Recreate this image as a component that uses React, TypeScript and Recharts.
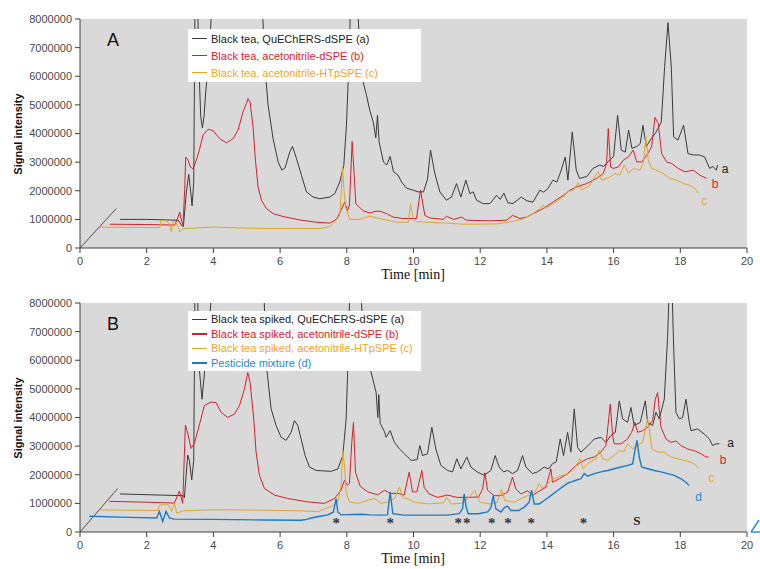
import { ComposedChart, Line, XAxis, YAxis, CartesianGrid, ReferenceLine, ReferenceDot } from 'recharts'

// [retention time (min), signal (millions of counts)]
type Pt = [number, number]

// --- A: black tea extracts ---
const A_QUECHERS: Pt[] = [
  [1.2, 1.0], [2.0, 1.0], [2.95, 0.97], [3.05, 0.78], [3.1, 0.75], [3.19, 1.96], [3.26, 2.57], [3.32, 1.96],
  [3.36, 1.47], [3.41, 2.3], [3.45, 9], [3.52, 9], [3.56, 6.5], [3.62, 4.6], [3.67, 4.2], [3.72, 4.6],
  [3.77, 5.45], [3.89, 7.0], [3.97, 9], [5.45, 9], [5.54, 6.39], [5.64, 4.99], [5.79, 3.82], [5.94, 3.01],
  [6.05, 2.72], [6.15, 2.8], [6.29, 3.36], [6.37, 3.55], [6.49, 3.13], [6.64, 2.54], [6.79, 1.96], [6.99, 1.78],
  [7.19, 1.72], [7.49, 1.78], [7.64, 1.9], [7.79, 2.31], [7.91, 2.89], [7.99, 4.29], [8.04, 5.8], [8.09, 7.55],
  [8.12, 9], [8.3, 9], [8.39, 6.97], [8.49, 5.8], [8.59, 5.34], [8.69, 4.81], [8.79, 4.41], [8.87, 3.85],
  [8.92, 4.64], [8.97, 3.7], [9.1, 3.0], [9.2, 2.9], [9.3, 3.2], [9.4, 2.66], [9.54, 2.54], [9.64, 2.31],
  [9.79, 2.09], [9.99, 2.02], [10.14, 1.96], [10.3, 1.96], [10.42, 2.4], [10.51, 3.42], [10.64, 2.6], [10.79, 1.96],
  [10.99, 1.67], [11.14, 1.78], [11.29, 2.25], [11.42, 1.78], [11.57, 2.37], [11.69, 1.9], [11.79, 1.96], [11.89, 1.67],
  [12.09, 1.55], [12.29, 1.55], [12.49, 1.84], [12.6, 1.7], [12.71, 1.92], [12.83, 1.58], [12.98, 1.55], [13.23, 1.78],
  [13.4, 1.65], [13.58, 1.6], [13.79, 2.02], [13.9, 1.95], [14.03, 2.08], [14.18, 2.37], [14.3, 2.3], [14.43, 2.72],
  [14.55, 3.18], [14.63, 2.37], [14.76, 4.06], [14.88, 2.72], [14.98, 2.43], [15.2, 2.5], [15.38, 2.78], [15.58, 2.9],
  [15.7, 2.85], [15.88, 3.07], [16.0, 3.2], [16.12, 4.64], [16.23, 3.42], [16.35, 3.35], [16.45, 4.12], [16.55, 3.48],
  [16.7, 3.55], [16.8, 3.65], [16.88, 4.29], [16.98, 3.54], [17.13, 3.83], [17.25, 4.0], [17.33, 4.18], [17.43, 4.4],
  [17.53, 6.33], [17.63, 7.87], [17.73, 6.33], [17.8, 3.88], [17.93, 3.77], [18.1, 4.29], [18.23, 3.3], [18.4, 3.25],
  [18.58, 3.25], [18.73, 3.18], [18.88, 2.78], [18.98, 2.85], [19.08, 2.72], [19.12, 2.9],
]
const A_ACN_DSPE: Pt[] = [
  [0.89, 0.83], [2.0, 0.82], [2.84, 0.8], [2.94, 1.08], [2.99, 1.26], [3.04, 0.97], [3.09, 0.8], [3.14, 2.08],
  [3.17, 3.18], [3.24, 3.07], [3.31, 2.83], [3.39, 2.77], [3.49, 3.07], [3.59, 3.47], [3.69, 3.94], [3.84, 4.15],
  [3.99, 4.1], [4.19, 3.82], [4.39, 3.67], [4.59, 3.82], [4.74, 4.12], [4.89, 4.76], [4.99, 5.05], [5.04, 5.22],
  [5.1, 5.1], [5.19, 4.23], [5.26, 3.07], [5.34, 2.13], [5.44, 1.67], [5.59, 1.38], [5.79, 1.2], [6.09, 1.1],
  [6.59, 0.98], [7.09, 0.9], [7.49, 0.87], [7.69, 1.0], [7.84, 1.35], [7.94, 1.61], [8.02, 1.3], [8.08, 1.5],
  [8.16, 3.72], [8.22, 2.6], [8.27, 1.55], [8.49, 1.3], [8.7, 1.22], [8.85, 1.28], [8.99, 1.29], [9.19, 1.2],
  [9.39, 1.08], [9.69, 1.03], [10.09, 1.03], [10.21, 2.02], [10.34, 1.14], [10.49, 1.05], [10.89, 1.0], [10.99, 1.11],
  [11.2, 1.0], [11.44, 1.08], [11.59, 0.97], [12.3, 0.95], [12.79, 0.97], [12.97, 1.14], [13.19, 1.03], [13.39, 1.08],
  [13.59, 1.2], [13.89, 1.38], [14.19, 1.61], [14.49, 1.84], [14.69, 2.02], [14.89, 2.13], [15.19, 2.25], [15.49, 2.43],
  [15.69, 2.6], [15.79, 2.95], [15.84, 4.17], [15.91, 2.83], [15.99, 2.78], [16.14, 2.83], [16.29, 3.07], [16.44, 3.18],
  [16.59, 3.42], [16.69, 3.01], [16.84, 3.0], [16.99, 3.24], [17.14, 3.53], [17.24, 4.56], [17.34, 4.35], [17.44, 3.3],
  [17.59, 3.01], [17.74, 2.95], [17.94, 2.78], [18.14, 2.66], [18.39, 2.72], [18.59, 2.54], [18.79, 2.43],
]
const A_ACN_HTPSPE: Pt[] = [
  [0.59, 0.73], [2.39, 0.71], [2.44, 0.97], [2.59, 0.95], [2.67, 0.86], [2.74, 0.56], [2.79, 0.92], [2.86, 0.92],
  [2.95, 0.71], [2.99, 0.56], [3.09, 0.68], [3.99, 0.73], [5.09, 0.69], [6.5, 0.68], [7.2, 0.68], [7.49, 0.75],
  [7.64, 0.91], [7.79, 1.14], [7.84, 2.1], [7.87, 2.83], [7.91, 2.1], [7.96, 1.45], [8.09, 1.0], [8.39, 1.0],
  [8.69, 1.11], [9.09, 1.0], [9.49, 0.9], [9.84, 0.9], [9.91, 1.55], [9.99, 1.05], [10.09, 0.92], [10.99, 0.87],
  [11.49, 0.83], [12.49, 0.84], [12.99, 0.93], [13.29, 1.02], [13.59, 1.2], [13.79, 1.38], [13.89, 1.5], [13.95, 1.38],
  [14.19, 1.55], [14.49, 1.78], [14.61, 1.96], [14.79, 2.02], [14.94, 2.28], [15.04, 2.02], [15.29, 2.19], [15.49, 2.6],
  [15.54, 2.66], [15.64, 2.37], [15.89, 2.48], [16.04, 2.6], [16.19, 2.55], [16.32, 2.9], [16.45, 2.6], [16.59, 2.78],
  [16.79, 2.72], [16.89, 2.95], [16.97, 3.88], [17.04, 3.07], [17.14, 2.78], [17.29, 2.72], [17.49, 2.6], [17.69, 2.43],
  [17.89, 2.37], [18.09, 2.25], [18.29, 2.19], [18.44, 2.08], [18.54, 1.92],
]

// --- B: spiked black tea extracts and the pesticide mixture ---
const B_QUECHERS: Pt[] = [
  [1.2, 1.33], [2.4, 1.29], [3.1, 1.27], [3.13, 1.2], [3.23, 2.69], [3.28, 2.5], [3.35, 1.82], [3.41, 2.5],
  [3.45, 9], [3.52, 9], [3.56, 5.92], [3.66, 4.64], [3.76, 5.92], [3.88, 7.19], [3.97, 9], [5.5, 9],
  [5.58, 5.92], [5.73, 4.3], [5.88, 3.72], [6.03, 3.31], [6.18, 3.2], [6.33, 3.48], [6.43, 3.89], [6.53, 3.72],
  [6.63, 3.25], [6.75, 2.67], [6.88, 2.27], [7.08, 2.15], [7.53, 2.12], [7.73, 2.2], [7.88, 2.67], [7.98, 3.95],
  [8.05, 6.5], [8.1, 9], [8.38, 9], [8.48, 7.3], [8.63, 6.03], [8.78, 5.34], [8.88, 4.87], [8.93, 4.0],
  [8.96, 4.8], [9.0, 3.8], [9.13, 3.5], [9.18, 3.31], [9.3, 3.54], [9.43, 3.13], [9.58, 2.9], [9.73, 2.73],
  [9.93, 2.5], [10.11, 2.53], [10.19, 3.02], [10.27, 2.67], [10.42, 2.73], [10.55, 3.66], [10.67, 2.9], [10.82, 2.33],
  [11.02, 2.15], [11.17, 2.1], [11.3, 2.56], [11.42, 2.2], [11.6, 2.62], [11.72, 2.27], [11.92, 2.09], [12.12, 1.98],
  [12.32, 2.15], [12.45, 2.67], [12.57, 2.27], [12.7, 2.1], [12.82, 2.15], [12.97, 2.04], [13.12, 2.15], [13.27, 2.67],
  [13.37, 2.27], [13.57, 2.04], [13.72, 2.1], [13.92, 2.27], [14.05, 2.2], [14.17, 2.39], [14.28, 2.45], [14.4, 3.25],
  [14.5, 2.67], [14.62, 3.48], [14.72, 2.79], [14.82, 4.3], [14.92, 2.96], [15.02, 2.79], [15.22, 3.0], [15.42, 3.25],
  [15.62, 3.31], [15.77, 3.13], [15.92, 3.37], [16.05, 3.48], [16.17, 4.58], [16.27, 3.95], [16.42, 3.83], [16.52, 4.35],
  [16.62, 3.72], [16.8, 3.83], [16.95, 4.58], [17.02, 3.83], [17.17, 3.72], [17.27, 4.18], [17.37, 3.95], [17.52, 4.64],
  [17.62, 6.84], [17.68, 9], [17.74, 9], [17.8, 6.5], [17.87, 4.18], [17.97, 3.95], [18.07, 4.0], [18.17, 4.64],
  [18.27, 3.83], [18.32, 3.54], [18.52, 3.6], [18.72, 3.42], [18.87, 3.25], [18.97, 3.02], [19.07, 3.08], [19.17, 3.08],
]
const B_ACN_DSPE: Pt[] = [
  [0.88, 1.07], [2.0, 1.04], [2.83, 1.01], [2.98, 1.43], [3.08, 1.0], [3.16, 3.73], [3.22, 3.5], [3.33, 2.92],
  [3.43, 3.1], [3.6, 3.83], [3.73, 4.42], [3.93, 4.54], [4.08, 4.52], [4.23, 4.18], [4.43, 4.0], [4.63, 4.12],
  [4.78, 4.41], [4.93, 4.99], [5.03, 5.57], [5.1, 5.22], [5.21, 3.95], [5.28, 2.79], [5.38, 1.98], [5.53, 1.52],
  [5.83, 1.29], [6.23, 1.17], [6.83, 1.05], [7.33, 1.0], [7.63, 1.17], [7.83, 1.46], [7.93, 1.81], [8.02, 1.63],
  [8.08, 1.7], [8.15, 3.14], [8.2, 3.83], [8.26, 2.09], [8.4, 1.6], [8.63, 1.4], [8.93, 1.3], [9.13, 1.46],
  [9.3, 1.35], [9.53, 1.35], [9.72, 1.29], [9.87, 2.09], [9.97, 1.4], [10.1, 1.4], [10.25, 2.15], [10.32, 1.56],
  [10.47, 1.33], [10.72, 1.21], [11.02, 1.29], [11.3, 1.21], [11.62, 1.21], [11.95, 1.22], [12.07, 1.5], [12.14, 2.07],
  [12.22, 1.46], [12.42, 1.27], [12.62, 1.27], [12.82, 1.39], [12.97, 1.92], [13.07, 1.5], [13.22, 1.33], [13.42, 1.44],
  [13.57, 1.27], [13.72, 1.39], [13.97, 1.56], [14.12, 2.21], [14.17, 1.74], [14.37, 1.86], [14.62, 2.04], [14.82, 2.27],
  [15.02, 2.44], [15.22, 2.56], [15.42, 2.62], [15.62, 2.79], [15.77, 3.02], [15.9, 4.47], [15.97, 3.37], [16.02, 3.08],
  [16.22, 3.08], [16.42, 3.25], [16.54, 3.48], [16.64, 3.83], [16.72, 3.48], [16.87, 3.54], [17.02, 3.66], [17.17, 3.89],
  [17.25, 4.64], [17.32, 4.87], [17.42, 3.66], [17.57, 3.25], [17.72, 3.13], [17.87, 3.18], [18.02, 3.02], [18.22, 2.9],
  [18.42, 2.84], [18.62, 2.73], [18.77, 2.62], [18.85, 2.62],
]
const B_ACN_HTPSPE: Pt[] = [
  [0.58, 0.77], [2.33, 0.75], [2.39, 0.95], [2.65, 0.95], [2.75, 0.72], [2.83, 1.0], [2.9, 0.65], [3.08, 0.74],
  [4.0, 0.78], [5.5, 0.76], [6.63, 0.74], [7.13, 0.71], [7.53, 0.89], [7.73, 1.05], [7.83, 1.63], [7.88, 2.85],
  [7.93, 2.33], [7.98, 1.39], [8.08, 1.05], [8.33, 1.0], [8.63, 1.11], [8.83, 1.17], [9.03, 1.0], [9.23, 1.05],
  [9.43, 1.16], [9.58, 1.57], [9.68, 1.2], [9.83, 1.16], [10.03, 1.04], [10.43, 0.98], [10.9, 1.02], [11.0, 1.21],
  [11.13, 0.98], [11.45, 1.0], [11.62, 1.16], [11.84, 1.45], [11.99, 1.04], [12.3, 0.98], [12.5, 1.02], [12.64, 1.49],
  [12.74, 1.1], [13.02, 1.04], [13.22, 1.16], [13.42, 1.27], [13.62, 1.33], [13.77, 1.69], [13.85, 1.52], [14.02, 1.69],
  [14.22, 1.86], [14.42, 1.97], [14.62, 2.02], [14.82, 2.21], [14.99, 2.56], [15.09, 2.21], [15.27, 2.44], [15.47, 2.56],
  [15.57, 2.85], [15.67, 2.56], [15.82, 2.5], [16.02, 2.68], [16.17, 2.85], [16.3, 2.8], [16.42, 3.08], [16.57, 2.91],
  [16.72, 3.02], [16.87, 3.14], [17.02, 3.95], [17.07, 3.6], [17.14, 2.91], [17.32, 2.79], [17.52, 2.79], [17.72, 2.62],
  [17.92, 2.56], [18.12, 2.5], [18.32, 2.44], [18.47, 2.33], [18.57, 2.21],
]
const B_PESTICIDES: Pt[] = [
  [0.28, 0.55], [1.5, 0.51], [2.3, 0.49], [2.38, 0.72], [2.48, 0.37], [2.58, 0.72], [2.68, 0.49], [2.83, 0.45],
  [4.0, 0.44], [5.5, 0.42], [6.63, 0.41], [6.8, 0.44], [6.93, 0.49], [7.2, 0.55], [7.43, 0.6], [7.6, 0.7], [7.68, 1.17], [7.73, 0.7],
  [7.83, 0.6], [8.43, 0.62], [8.7, 0.6], [9.03, 0.59], [9.22, 0.6], [9.3, 1.4], [9.38, 0.64], [9.7, 0.59],
  [11.02, 0.59], [11.37, 0.64], [11.47, 0.81], [11.52, 1.33], [11.58, 0.87], [11.64, 0.64], [11.95, 0.64], [12.22, 0.7],
  [12.32, 0.85], [12.39, 1.27], [12.47, 0.81], [12.62, 0.7], [12.74, 0.87], [12.82, 0.9], [12.92, 0.75], [13.15, 0.75],
  [13.32, 0.87], [13.47, 1.04], [13.54, 1.46], [13.62, 0.98], [13.77, 0.98], [13.92, 1.1], [14.12, 1.27], [14.32, 1.45],
  [14.52, 1.62], [14.65, 1.72], [14.72, 1.74], [14.85, 1.8], [15.02, 1.86], [15.12, 2.04], [15.22, 1.95], [15.42, 2.04],
  [15.62, 2.1], [15.82, 2.15], [16.02, 2.21], [16.22, 2.27], [16.42, 2.33], [16.57, 2.38], [16.64, 2.85], [16.7, 3.2],
  [16.77, 2.62], [16.84, 2.27], [17.02, 2.21], [17.22, 2.15], [17.42, 2.1], [17.62, 2.04], [17.82, 1.98], [18.02, 1.86],
  [18.17, 1.74], [18.27, 1.62],
]

// spiked pesticides (*) and the standard (S) in trace d
const MARKED_PEAKS = [7.68, 9.3, 11.34, 11.6, 12.35, 12.83, 13.53, 15.1]
const STANDARD_PEAK = 16.7
const MARK_LEVEL = 0.42

const TIME_TICKS = [0, 2, 4, 6, 8, 10, 12, 14, 16, 18, 20]
const SIGNAL_TICKS = [0, 1000000, 2000000, 3000000, 4000000, 5000000, 6000000, 7000000, 8000000]
const MEGA = 1e6

const SANS = '"Liberation Sans", Arial, sans-serif'
const SERIF = '"Liberation Serif", "Times New Roman", serif'

const INK = { a: '#3a3a3a', b: '#d3212a', c: '#e2a526', d: '#1b7cc6' }
const LABEL_INK = { a: '#222', b: '#e3202a', c: '#f2a52a', d: '#1f86d8' }

const pts = (rows: Pt[]) => rows.map(([t, m]) => ({ t, v: m * MEGA }))

interface Trace { tag: 'a' | 'b' | 'c' | 'd'; name: string; rows: Pt[]; dx: number; dy: number; width?: number }

const TRACES_A: Trace[] = [
  { tag: 'a', name: 'Black tea, QuEChERS-dSPE (a)', rows: A_QUECHERS, dx: 4, dy: 8 },
  { tag: 'b', name: 'Black tea, acetonitrile-dSPE (b)', rows: A_ACN_DSPE, dx: 5, dy: 10 },
  { tag: 'c', name: 'Black tea, acetonitrile-HTpSPE (c)', rows: A_ACN_HTPSPE, dx: 3, dy: 12 },
]
const TRACES_B: Trace[] = [
  { tag: 'a', name: 'Black tea spiked, QuEChERS-dSPE (a)', rows: B_QUECHERS, dx: 8, dy: 3 },
  { tag: 'b', name: 'Black tea spiked, acetonitrile-dSPE (b)', rows: B_ACN_DSPE, dx: 11, dy: 7 },
  { tag: 'c', name: 'Black tea spiked, acetonitrile-HTpSPE (c)', rows: B_ACN_HTPSPE, dx: 9, dy: 13 },
  { tag: 'd', name: 'Pesticide mixture (d)', rows: B_PESTICIDES, dx: 6, dy: 15, width: 1.4 },
]

const tickStyle = { fontSize: 11, fill: '#4a4a4a', fontFamily: SANS }

function Panel({ top, letter, traces, spur, marks, legendTop, rowGap }: {
  top: number; letter: string; traces: Trace[]; spur: Pt; marks: boolean; legendTop: number; rowGap: number
}) {
  return (
    <div style={{ position: 'absolute', left: 0, top, width: 760, height: 285 }}>
      <ComposedChart width={760} height={285} margin={{ top: 19, right: 13, bottom: 0, left: 0 }}>
        <CartesianGrid horizontal={false} vertical={false} fill="#d9d9d9" stroke="none" />
        <XAxis type="number" dataKey="t" domain={[0, 20]} ticks={TIME_TICKS} interval={0} height={37}
          tick={tickStyle} stroke="#404040" tickSize={5} tickMargin={4} />
        <YAxis type="number" dataKey="v" domain={[0, 8000000]} ticks={SIGNAL_TICKS} interval={0} width={80}
          allowDataOverflow tick={tickStyle} stroke="#404040" tickSize={5} tickMargin={3} />
        <ReferenceLine segment={[{ x: 0, y: 0 }, { x: spur[0], y: spur[1] * MEGA }]} stroke="#505050" strokeWidth={1} ifOverflow="visible" />
        {traces.map(tr => (
          <Line key={tr.tag} data={pts(tr.rows)} dataKey="v" type="linear" stroke={INK[tr.tag]}
            strokeWidth={tr.width ?? 1} dot={false} activeDot={false} isAnimationActive={false} />
        ))}
        {traces.map(tr => {
          const [t, m] = tr.rows[tr.rows.length - 1]
          return (
            <ReferenceDot key={'tag' + tr.tag} x={t} y={m * MEGA} r={0}
              shape={(p: any) => (
                <text x={p.cx + tr.dx} y={p.cy + tr.dy} fill={LABEL_INK[tr.tag]} fontSize={12} fontFamily={SANS}>{tr.tag}</text>
              )} />
          )
        })}
        {marks && MARKED_PEAKS.map(t => (
          <ReferenceDot key={'m' + t} x={t} y={MARK_LEVEL * MEGA} r={0}
            shape={(p: any) => (
              <text x={p.cx} y={p.cy + 8} textAnchor="middle" fill="#333" fontSize={15} fontWeight="bold" fontFamily={SERIF}>*</text>
            )} />
        ))}
        {marks && (
          <ReferenceDot x={STANDARD_PEAK} y={MARK_LEVEL * MEGA} r={0}
            shape={(p: any) => (
              <text x={p.cx} y={p.cy + 5} textAnchor="middle" fill="#222" fontSize={13} fontWeight="bold" fontFamily={SERIF}>S</text>
            )} />
        )}
      </ComposedChart>

      <div style={{ position: 'absolute', left: 107, top: 30, fontFamily: SANS, fontSize: 18, color: '#111' }}>{letter}</div>

      <div style={{
        position: 'absolute', left: 188, top: legendTop, width: 233, height: traces.length * rowGap + 2,
        background: '#fff', fontFamily: SANS, fontSize: 11,
      }}>
        {traces.map((tr, i) => (
          <div key={tr.tag} style={{ position: 'absolute', left: 4, top: 1 + i * rowGap, height: rowGap, display: 'flex', alignItems: 'center' }}>
            <div style={{ width: 15, height: tr.tag === 'a' ? 1 : 1.5, background: INK[tr.tag], marginRight: 4 }} />
            <span style={{ color: LABEL_INK[tr.tag], whiteSpace: 'nowrap' }}>{tr.name}</span>
          </div>
        ))}
      </div>

      <div style={{
        position: 'absolute', left: 18, top: 134, transform: 'translate(-50%, -50%) rotate(-90deg)',
        fontFamily: SANS, fontSize: 11, fontWeight: 'bold', color: '#111', whiteSpace: 'nowrap',
      }}>Signal intensity</div>
      <div style={{
        position: 'absolute', left: 413, top: 267, transform: 'translateX(-50%)',
        fontFamily: SERIF, fontSize: 14, color: '#111', whiteSpace: 'nowrap',
      }}>Time [min]</div>
    </div>
  )
}

export default function App() {
  return (
    <div style={{ position: 'absolute', left: 0, top: 0, width: 760, height: 569, background: '#fff', overflow: 'hidden' }}>
      <Panel top={0} letter="A" traces={TRACES_A} spur={[1.09, 1.38]} marks={false} legendTop={29} rowGap={17} />
      <Panel top={284} letter="B" traces={TRACES_B} spur={[1.13, 1.52]} marks legendTop={27} rowGap={14.5} />
      <svg style={{ position: 'absolute', left: 750, top: 516 }} width={10} height={18}>
        <line x1={1} y1={16} x2={9} y2={4} stroke="#2a8fd8" strokeWidth={1.5} />
        <line x1={1} y1={16} x2={10} y2={16} stroke="#2a8fd8" strokeWidth={1.5} />
      </svg>
    </div>
  )
}
